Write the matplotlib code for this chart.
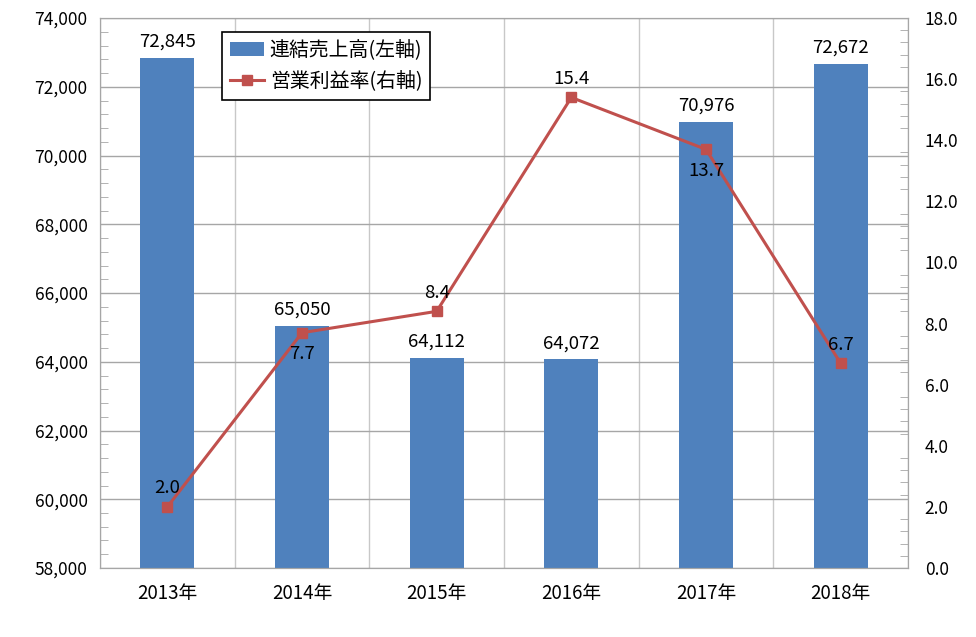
import numpy as np
import matplotlib.pyplot as plt
from matplotlib.ticker import FuncFormatter, AutoMinorLocator, MultipleLocator

plt.rcParams["font.family"] = ["Noto Sans CJK JP", "DejaVu Sans"]

years = ["2013年", "2014年", "2015年", "2016年", "2017年", "2018年"]
sales = [72845, 65050, 64112, 64072, 70976, 72672]
margin = [2.0, 7.7, 8.4, 15.4, 13.7, 6.7]
margin_below = [False, True, False, False, True, False]

bar_color = "#4F81BD"
line_color = "#C0504D"
grid_color = "#A6A6A6"

fig = plt.figure(figsize=(9.76, 6.37), dpi=100)
ax = fig.add_axes([100 / 976, 1 - 568 / 637, 808 / 976, 550 / 637])
ax2 = ax.twinx()

x = np.arange(len(years))
bars = ax.bar(x, sales, width=0.4, color=bar_color, zorder=2, label="連結売上高(左軸)")
ax.set_xlim(-0.5, len(years) - 0.5)
ax.set_ylim(58000, 74000)
ax.yaxis.set_major_locator(MultipleLocator(2000))
ax.yaxis.set_minor_locator(AutoMinorLocator(5))
ax.yaxis.set_major_formatter(FuncFormatter(lambda v, p: f"{int(v):,}"))
ax.set_xticks(x)
ax.set_xticklabels(years)
ax.set_xticks(np.arange(len(years) + 1) - 0.5, minor=True)
ax.grid(axis="y", which="major", color=grid_color, lw=1, zorder=0)
ax.grid(axis="x", which="minor", color="#C8C8C8", lw=1, zorder=0)
ax.tick_params(axis="x", which="major", length=4, direction="in", color=grid_color,
               pad=11, labelsize=13.5)
ax.tick_params(axis="x", which="minor", length=0)
ax.tick_params(axis="y", which="major", length=0, labelsize=12.5, pad=9)
ax.tick_params(axis="y", which="minor", length=6, direction="in", color=grid_color)
for s in ax.spines.values():
    s.set_color(grid_color)
ax.set_axisbelow(True)

for xi, v in zip(x, sales):
    ax.annotate(f"{v:,}", (xi, v), xytext=(0, 5), textcoords="offset points",
                ha="center", va="bottom", fontsize=13.4)

line, = ax2.plot(x, margin, color=line_color, lw=2.2, marker="s", markersize=7,
                 label="営業利益率(右軸)", zorder=3)
ax2.set_ylim(0, 18)
ax2.yaxis.set_major_locator(MultipleLocator(2))
ax2.yaxis.set_minor_locator(AutoMinorLocator(5))
ax2.yaxis.set_major_formatter(FuncFormatter(lambda v, p: f"{v:.1f}"))
ax2.tick_params(axis="y", which="major", length=0, labelsize=12.5, pad=12)
ax2.tick_params(axis="y", which="minor", length=6, direction="in", color=grid_color)
for s in ax2.spines.values():
    s.set_color(grid_color)

for xi, v, below in zip(x, margin, margin_below):
    off = -9 if below else 7
    ax2.annotate(f"{v:.1f}", (xi, v), xytext=(0, off), textcoords="offset points",
                 ha="center", va="top" if below else "bottom", fontsize=13.4)

leg = ax2.legend([bars, line], ["連結売上高(左軸)", "営業利益率(右軸)"],
                 loc="upper left", bbox_to_anchor=(122 / 808, 1 - 14 / 550),
                 fontsize=14.3, frameon=True, fancybox=False, edgecolor="black",
                 handlelength=1.7, borderpad=0.4, labelspacing=0.5, handletextpad=0.3,
                 borderaxespad=0, framealpha=1)
leg.get_frame().set_linewidth(1.2)
leg.set_zorder(5)

fig.savefig("out.png", dpi=100)
